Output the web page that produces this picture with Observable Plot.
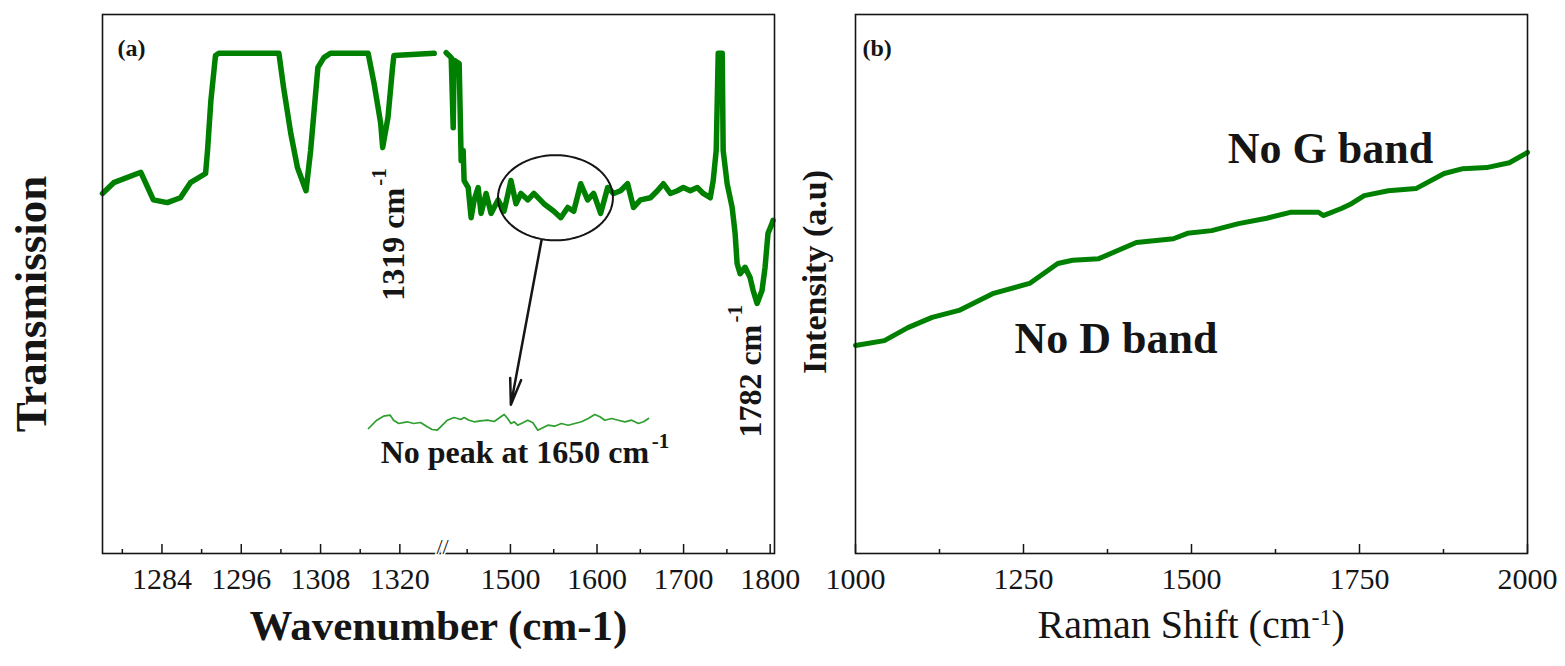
<!DOCTYPE html>
<html>
<head>
<meta charset="utf-8">
<script src="https://cdn.jsdelivr.net/npm/d3@7"></script>
<script src="https://cdn.jsdelivr.net/npm/@observablehq/plot@0.6"></script>
<style>
  body { margin: 0; background: #fff; }
  #chart { position: relative; width: 1565px; height: 666px; overflow: hidden; background: #fff; }
  #chart svg { position: absolute; top: 0; }
</style>
</head>
<body>
<div id="chart"></div>
<script>
// ---------- Panel (a): FTIR, broken wavenumber axis ----------
const ftirLowX = [1275.0, 1276.7, 1280.3, 1280.8, 1282.7, 1284.8, 1286.8, 1288.3, 1290.6, 1290.9, 1291.4, 1292.1, 1292.6, 1301.7, 1302.4, 1303.5, 1304.5, 1305.8, 1306.5, 1307.6, 1308.5, 1309.5, 1315.2, 1316.1, 1317.1, 1317.4, 1318.2, 1318.9, 1319.1, 1325.2];
const ftirLowY = [66.8, 68.8, 70.5, 70.7, 65.6, 65.1, 66.0, 68.8, 70.5, 74.8, 84.0, 92.4, 92.8, 92.8, 86.5, 77.9, 71.6, 67.3, 74.8, 90.2, 92.0, 92.8, 92.8, 87.2, 79.8, 75.3, 80.9, 90.2, 92.4, 92.8];
const ftirHighX = [1425.8, 1431.6, 1433.9, 1435.0, 1440.8, 1443.1, 1445.4, 1446.5, 1451.2, 1454.6, 1458.1, 1462.7, 1466.1, 1471.9, 1477.6, 1485.7, 1492.6, 1500.6, 1506.4, 1512.1, 1520.2, 1527.1, 1538.6, 1550.1, 1558.2, 1566.2, 1573.1, 1581.2, 1589.2, 1596.1, 1604.2, 1612.3, 1619.2, 1627.2, 1635.3, 1642.2, 1650.2, 1661.7, 1669.8, 1676.7, 1684.7, 1692.8, 1699.7, 1707.7, 1715.8, 1722.7, 1730.8, 1734.2, 1737.7, 1740.0, 1744.6, 1745.7, 1750.3, 1756.1, 1759.5, 1761.8, 1765.3, 1771.0, 1776.8, 1780.3, 1784.9, 1790.6, 1794.1, 1797.5, 1802.1, 1803.3];
const ftirHighY = [92.9, 92.0, 79.0, 91.5, 90.9, 72.9, 74.8, 69.2, 67.9, 62.3, 65.6, 67.9, 63.1, 66.8, 63.1, 65.6, 63.5, 69.2, 64.9, 66.8, 65.6, 66.8, 64.9, 63.5, 62.3, 64.2, 63.5, 68.6, 65.6, 66.8, 63.1, 67.9, 66.8, 67.3, 68.6, 64.2, 65.6, 66.0, 67.3, 68.6, 66.8, 67.3, 67.9, 67.3, 67.9, 66.8, 66.0, 69.2, 74.8, 92.8, 92.8, 74.8, 68.6, 64.2, 59.4, 53.8, 51.9, 53.1, 51.2, 48.8, 46.4, 48.8, 53.1, 59.4, 61.2, 61.8];
const ftirMajorTicks = [1284, 1296, 1308, 1320, 1500, 1600, 1700, 1800];
const ftirMinorTicks = [1278, 1290, 1302, 1314, 1326, 1450, 1550, 1650, 1750];

// inset (zoomed noise of circled region)
const insetX = [1490.0, 1493.7, 1496.7, 1499.7, 1501.2, 1503.5, 1507.2, 1510.2, 1513.2, 1516.2, 1518.4, 1520.7, 1522.2, 1525.2, 1528.2, 1531.2, 1532.7, 1534.9, 1537.2, 1540.1, 1543.1, 1546.1, 1549.1, 1550.6, 1552.1, 1553.6, 1555.1, 1556.6, 1558.9, 1561.1, 1563.4, 1565.6, 1567.1, 1570.1, 1573.1, 1576.1, 1579.1, 1582.1, 1585.1, 1588.1, 1591.0, 1593.3, 1595.5, 1598.5, 1601.5, 1604.5, 1607.5, 1610.5, 1612.8, 1615.0];
const insetY = [5.0, 13.3, 17.3, 18.3, 13.3, 10.0, 11.7, 10.0, 11.0, 6.7, 4.0, 3.3, 6.7, 13.3, 16.0, 14.0, 16.0, 13.3, 11.7, 12.7, 13.3, 12.0, 16.7, 19.0, 15.0, 10.0, 11.7, 8.3, 10.7, 13.3, 10.7, 3.3, 5.0, 8.3, 7.3, 10.0, 8.3, 10.0, 11.7, 15.0, 19.0, 16.7, 13.3, 15.0, 13.3, 11.7, 13.3, 10.0, 11.7, 15.0];

// ---------- Panel (b): Raman ----------
const ramanX = [1000, 1043, 1078, 1114, 1154, 1204, 1259, 1301, 1323, 1362, 1418, 1473, 1494, 1530, 1570, 1612, 1647, 1689, 1696, 1723, 1738, 1757, 1793, 1834, 1843, 1876, 1904, 1939, 1973, 2000];
const ramanY = [38.6, 39.5, 41.9, 43.8, 45.1, 48.2, 50.1, 53.8, 54.4, 54.7, 57.7, 58.4, 59.4, 59.9, 61.2, 62.2, 63.3, 63.3, 62.7, 64.0, 64.9, 66.4, 67.3, 67.7, 68.3, 70.5, 71.4, 71.6, 72.5, 74.4];
const ramanMajorTicks = [1000, 1250, 1500, 1750, 2000];
const ramanMinorTicks = [1125, 1375, 1625, 1875];

// ---------- build ----------
const green = "#008000";
const ink = "#151515";
const serif = "'Liberation Serif', 'Times New Roman', serif";
const innerH = 539;

const ftir = [
  ...ftirLowX.map((x, i) => ({x, y: ftirLowY[i], seg: "low"})),
  ...ftirHighX.map((x, i) => ({x, y: ftirHighY[i], seg: "high"}))
];
const inset = insetX.map((x, i) => ({x, y: insetY[i]}));
const raman = ramanX.map((x, i) => ({x, y: ramanY[i]}));

// annotation shapes (data units of panel a)
const ell = {cx: 1552, cy: 66.0, rx: 66.4, ry: 7.9};
const ellipsePts = d3.range(0, 73).map(k => {
  const t = (k / 72) * 2 * Math.PI;
  return {x: ell.cx + ell.rx * Math.cos(t), y: ell.cy + ell.ry * Math.sin(t)};
});
const arrowSpec = [{x1: 1535.9, y1: 58.1, x2: 1500.5, y2: 27.6}];

const txt = d => d;

const plotA = Plot.plot({
  width: 800, height: 666,
  marginLeft: 102, marginRight: 26, marginTop: 14, marginBottom: 113,
  style: {fontFamily: serif, background: "transparent", color: ink, overflow: "visible"},
  x: {type: "linear", domain: [1275, 1326, 1425, 1805], range: [102, 439, 445, 774]},
  y: {domain: [0, 100], axis: null},
  marks: [
    Plot.line(ftir, {x: "x", y: "y", z: "seg", stroke: green, strokeWidth: 5.5}),
    Plot.line(ellipsePts, {x: "x", y: "y", stroke: ink, strokeWidth: 2}),
    Plot.arrow(arrowSpec, {x1: "x1", y1: "y1", x2: "x2", y2: "y2", stroke: ink, strokeWidth: 2.5, headLength: 16, headAngle: 24}),
    Plot.frame({stroke: ink, strokeWidth: 1.6}),
    Plot.ruleX(ftirMajorTicks, {x: d => d, insetTop: innerH - 9, stroke: ink, strokeWidth: 1.5}),
    Plot.ruleX(ftirMinorTicks, {x: d => d, insetTop: innerH - 4, stroke: ink, strokeWidth: 1.5}),
    Plot.axisX({ticks: ftirMajorTicks, tickFormat: d => String(d), tickSize: 0, tickPadding: 14, fontSize: 30, label: null}),
    Plot.text(["//"], {x: [1375.5], frameAnchor: "bottom", text: txt, fontSize: 22, fill: ink, stroke: "white", strokeWidth: 3}),
    Plot.text(["(a)"], {frameAnchor: "top-left", dx: 15, dy: 24, text: txt, textAnchor: "start", fontSize: 24, fontWeight: "bold"}),
    Plot.text(["1319 cm"], {x: [1319.1], y: [46.9], text: txt, rotate: -90, textAnchor: "start", fontSize: 32, fontWeight: "bold"}),
    Plot.text(["-1"], {x: [1319.1], y: [46.9], text: txt, rotate: -90, textAnchor: "start", dx: -15, dy: -115, fontSize: 21, fontWeight: "bold"}),
    Plot.text(["1782 cm"], {x: [1777], y: [21.5], text: txt, rotate: -90, textAnchor: "start", fontSize: 32, fontWeight: "bold"}),
    Plot.text(["-1"], {x: [1777], y: [21.5], text: txt, rotate: -90, textAnchor: "start", dx: -15, dy: -115, fontSize: 21, fontWeight: "bold"}),
    Plot.text(["No peak at 1650 cm"], {x: [1317.1], y: [18.7], text: txt, textAnchor: "start", fontSize: 32, fontWeight: "bold"}),
    Plot.text(["-1"], {x: [1317.1], y: [18.7], text: txt, textAnchor: "start", dx: 271, dy: -11, fontSize: 21, fontWeight: "bold"}),
    Plot.text(["Wavenumber (cm-1)"], {frameAnchor: "bottom", dy: 86, text: txt, textAnchor: "middle", fontSize: 43, fontWeight: "bold"}),
    Plot.text(["Transmission"], {frameAnchor: "left", rotate: -90, dx: -71, dy: 20, text: txt, textAnchor: "middle", fontSize: 45, fontWeight: "bold"})
  ]
});

const plotInset = Plot.plot({
  width: 280, height: 24, margin: 0,
  style: {background: "transparent", overflow: "visible"},
  x: {domain: [1490, 1615], axis: null},
  y: {domain: [0, 24], axis: null},
  marks: [
    Plot.line(inset, {x: "x", y: "y", stroke: "#2e9e2e", strokeWidth: 1.7})
  ]
});

const plotB = Plot.plot({
  width: 765, height: 666,
  marginLeft: 55, marginRight: 38, marginTop: 14, marginBottom: 113,
  style: {fontFamily: serif, background: "transparent", color: ink, overflow: "visible"},
  x: {domain: [1000, 2000]},
  y: {domain: [0, 100], axis: null},
  marks: [
    Plot.line(raman, {x: "x", y: "y", stroke: green, strokeWidth: 5}),
    Plot.frame({stroke: ink, strokeWidth: 1.6}),
    Plot.ruleX(ramanMajorTicks, {x: d => d, insetTop: innerH - 9, stroke: ink, strokeWidth: 1.5}),
    Plot.ruleX(ramanMinorTicks, {x: d => d, insetTop: innerH - 4, stroke: ink, strokeWidth: 1.5}),
    Plot.axisX({ticks: ramanMajorTicks, tickFormat: d => String(d), tickSize: 0, tickPadding: 14, fontSize: 30, label: null}),
    Plot.text(["(b)"], {frameAnchor: "top-left", dx: 7, dy: 24, text: txt, textAnchor: "start", fontSize: 24, fontWeight: "bold"}),
    Plot.text(["No G band"], {x: [1553.9], y: [75.0], text: txt, textAnchor: "start", fontSize: 44, fontWeight: "bold"}),
    Plot.text(["No D band"], {x: [1236.5], y: [39.9], text: txt, textAnchor: "start", fontSize: 44, fontWeight: "bold"}),
    Plot.text(["Intensity (a.u)"], {frameAnchor: "left", rotate: -90, dx: -40, dy: -12, text: txt, textAnchor: "middle", fontSize: 34, fontWeight: "bold"}),
    Plot.text(["Raman Shift (cm"], {frameAnchor: "bottom-left", dx: 182, dy: 84, text: txt, textAnchor: "start", fontSize: 40}),
    Plot.text(["-1"], {frameAnchor: "bottom-left", dx: 456, dy: 71, text: txt, textAnchor: "start", fontSize: 24}),
    Plot.text([")"], {frameAnchor: "bottom-left", dx: 476, dy: 84, text: txt, textAnchor: "start", fontSize: 40})
  ]
});

const chart = document.getElementById("chart");
plotA.style.left = "0px";
plotB.style.left = "800px";
plotInset.style.left = "368px";
plotInset.style.top = "409px";
chart.appendChild(plotA);
chart.appendChild(plotB);
chart.appendChild(plotInset);
</script>
</body>
</html>
